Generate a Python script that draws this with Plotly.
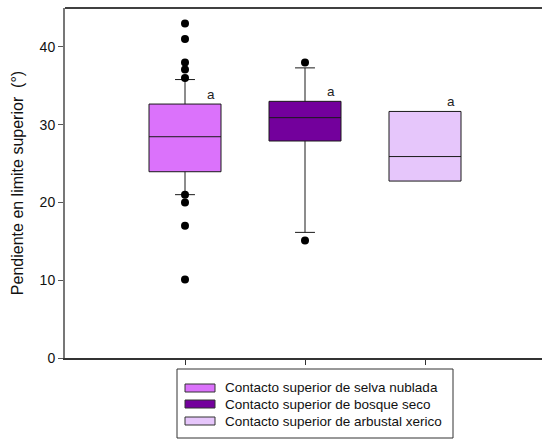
import plotly.graph_objects as go

# ---- data ----
names = ["Contacto superior de selva nublada",
         "Contacto superior de bosque seco",
         "Contacto superior de arbustal xerico"]
q1 = [23.95, 27.9, 22.75]
median = [28.45, 30.9, 25.9]
q3 = [32.65, 33.0, 31.7]
lower_whisker = [21.0, 16.15, 22.75]
upper_whisker = [35.8, 37.3, 31.7]
outliers = [[43.0, 41.0, 38.0, 37.1, 36.0, 21.0, 20.0, 17.0, 10.1],
            [38.0, 15.1],
            []]
letters = ["a", "a", "a"]
colors = ["#DB72FB", "#73009C", "#E6C6FB"]
yticks = [0, 10, 20, 30, 40]

W, H = 542, 440
L, R, T, B = 65, 0, 8, 82
font = "Arial, Liberation Sans, sans-serif"

fig = go.Figure()
for i, n in enumerate(names):
    fig.add_trace(go.Box(
        x=[i], q1=[q1[i]], median=[median[i]], q3=[q3[i]],
        lowerfence=[lower_whisker[i]], upperfence=[upper_whisker[i]],
        width=0.6, fillcolor=colors[i], line=dict(color="#1a1a1a", width=1),
        boxpoints=False, name=n, showlegend=False, whiskerwidth=0))
    # whisker caps
    for wv, ref in ((lower_whisker[i], q1[i]), (upper_whisker[i], q3[i])):
        if wv != ref:
            fig.add_trace(go.Scatter(x=[i - 0.083, i + 0.083], y=[wv, wv], mode="lines",
                                     line=dict(color="#1a1a1a", width=1),
                                     showlegend=False, hoverinfo="skip"))
    if outliers[i]:
        fig.add_trace(go.Scatter(x=[i] * len(outliers[i]), y=outliers[i], mode="markers",
                                 marker=dict(color="black", size=8),
                                 showlegend=False))
    fig.add_annotation(x=i + 0.22, y=q3[i], text=letters[i], showarrow=False,
                       yanchor="bottom", yshift=0, font=dict(size=13.5, color="#222", family=font))

# top border line
fig.add_shape(type="line", xref="paper", yref="paper", x0=0, x1=1, y0=1, y1=1,
              line=dict(color="black", width=1.5))

# manual legend
def px_x(p):
    return (p - L) / (W - L - R)

def px_y(p):
    return (H - B - p) / (H - T - B)

fig.add_shape(type="rect", xref="paper", yref="paper",
              x0=px_x(177), x1=px_x(453), y0=px_y(369), y1=px_y(438),
              line=dict(color="#333", width=1), fillcolor="white")
row_y = [388, 404, 421]
for i, n in enumerate(names):
    fig.add_shape(type="rect", xref="paper", yref="paper",
                  x0=px_x(185), x1=px_x(215), y0=px_y(row_y[i] - 4), y1=px_y(row_y[i] + 4),
                  line=dict(color="#333", width=1), fillcolor=colors[i])
    fig.add_annotation(xref="paper", yref="paper", x=px_x(223), y=px_y(row_y[i]),
                       text=n, showarrow=False, xanchor="left", yanchor="middle",
                       font=dict(size=13.5, color="#111", family=font))

fig.update_layout(
    width=W, height=H, margin=dict(l=L, r=R, t=T, b=B, autoexpand=False),
    paper_bgcolor="white", plot_bgcolor="white",
    font=dict(family=font, size=14, color="#111"),
    showlegend=False,
    xaxis=dict(range=[-1, 2.975], tickvals=[0, 1, 2], ticktext=["", "", ""],
               ticks="outside", ticklen=5, tickcolor="#333", showgrid=False,
               zeroline=False, showline=True, linecolor="#333", linewidth=1.5),
    yaxis=dict(range=[0, 45], tickvals=yticks, ticks="outside", ticklen=5,
               tickcolor="#555", showgrid=False, zeroline=False, showline=True,
               linecolor="#777", linewidth=2, tickfont=dict(size=14),
               title=dict(text="Pendiente en limite superior  (°)", font=dict(size=16),
                          standoff=12)),
)

fig.write_html("out.html", config={"displayModeBar": False},
               post_script="document.body.style.margin='0';")
